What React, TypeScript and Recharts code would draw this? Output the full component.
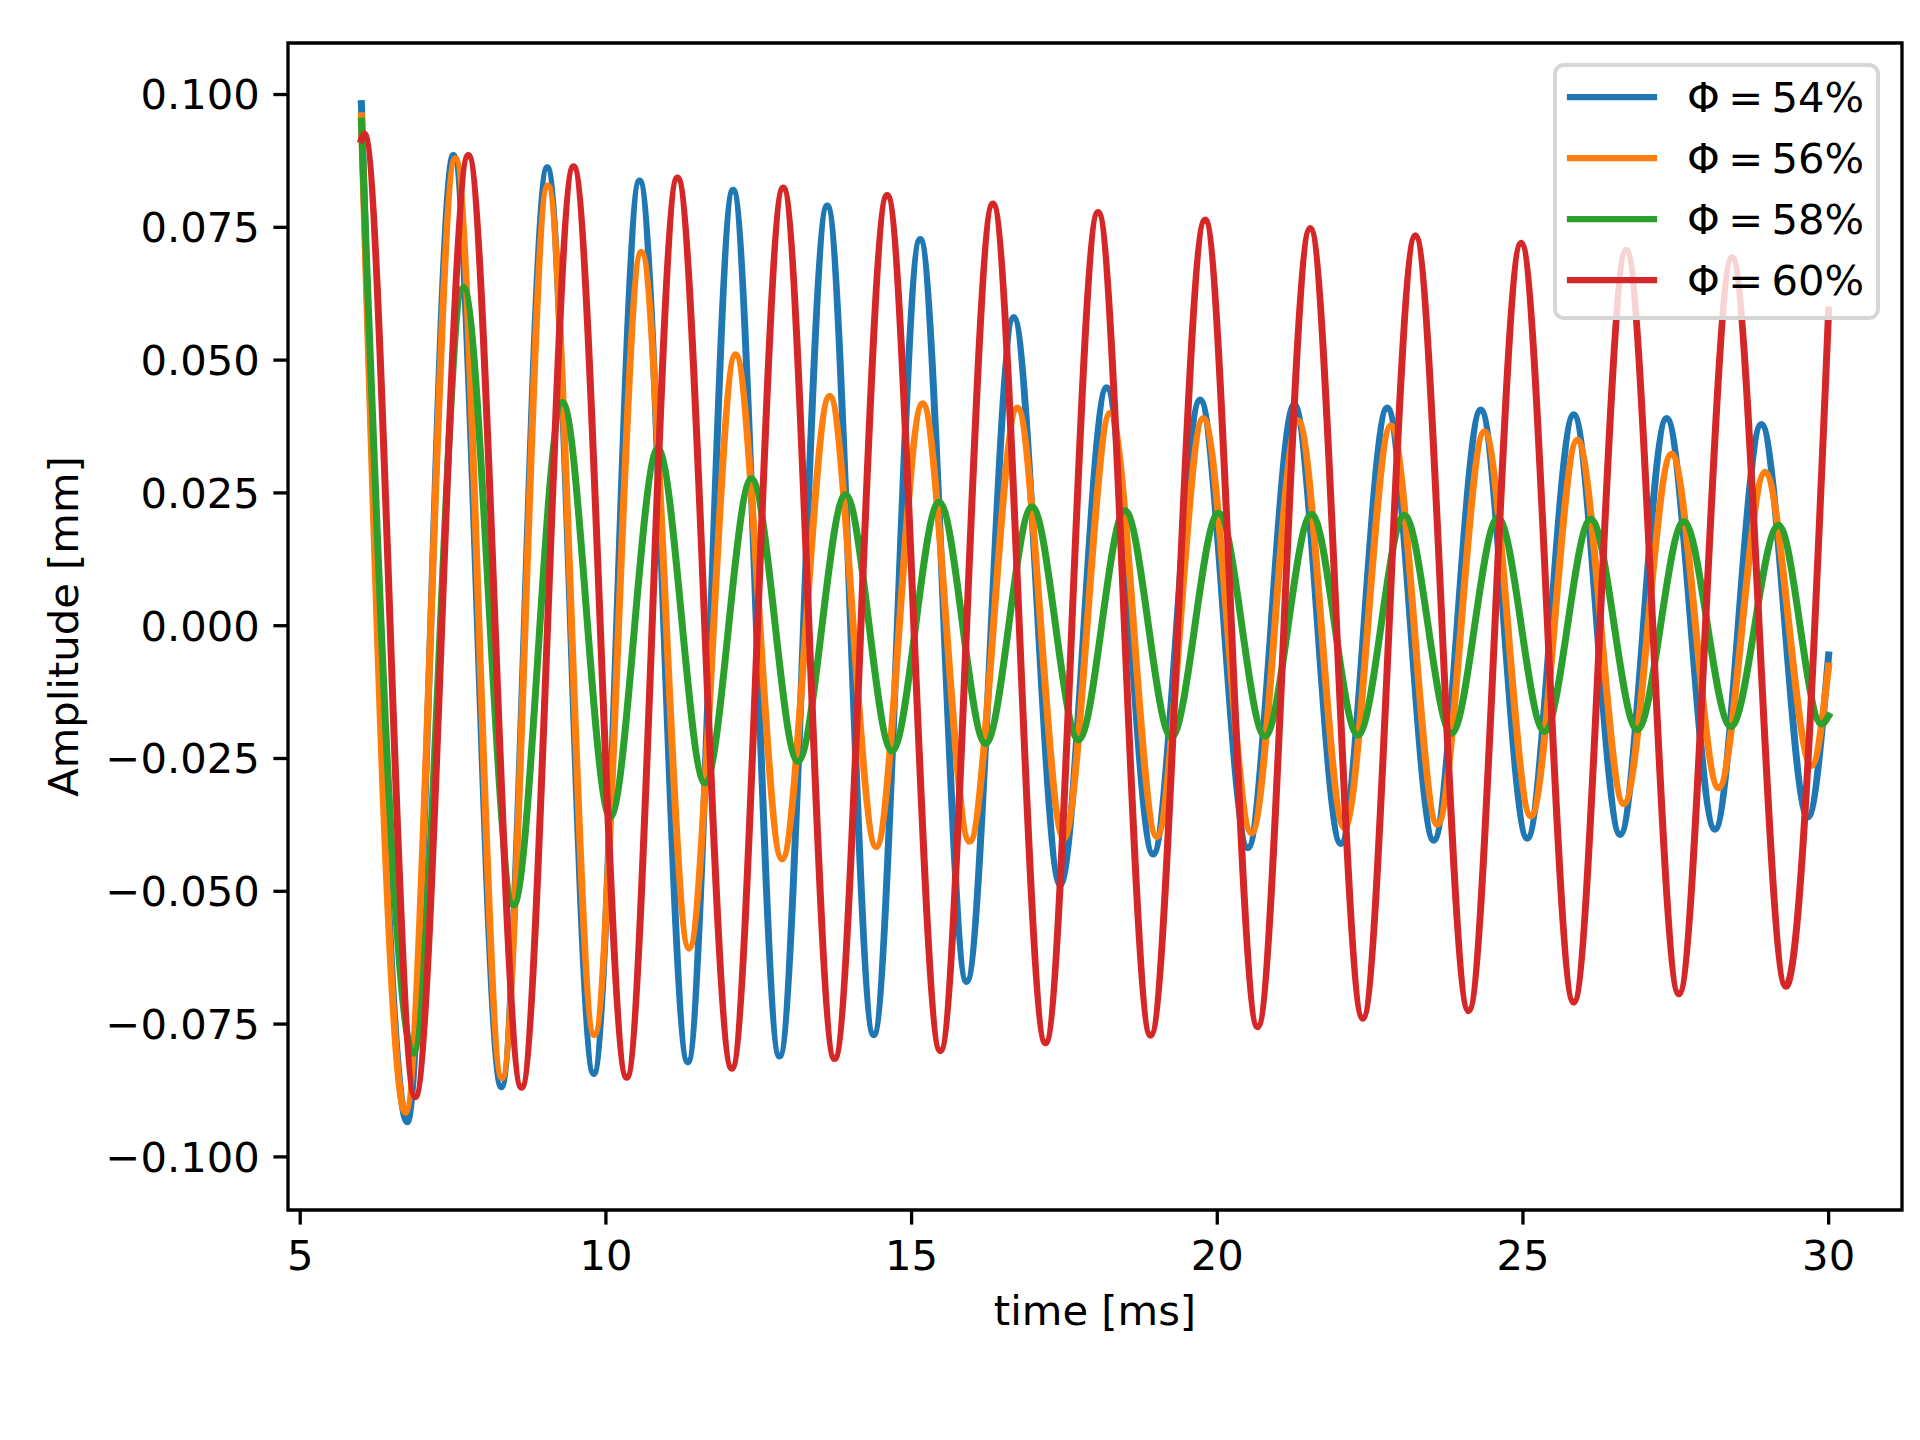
import { LineChart, Line, XAxis, YAxis, Legend, ReferenceArea } from 'recharts'

// Extrema (time in ms, amplitude in mm)
const T_54 = [6.0, 6.75, 7.505, 8.29, 9.04, 9.8, 10.55, 11.34, 12.08, 12.84, 13.62, 14.38, 15.14, 15.9, 16.67, 17.43, 18.19, 18.95, 19.72, 20.5, 21.26, 22.02, 22.78, 23.54, 24.31, 25.07, 25.83, 26.59, 27.35, 28.14, 28.9, 29.66, 30.0]
const A_54 = [0.0983, -0.0934, 0.0885, -0.0868, 0.0862, -0.0843, 0.0837, -0.0821, 0.082, -0.081, 0.079, -0.077, 0.0727, -0.067, 0.058, -0.0487, 0.0448, -0.043, 0.0425, -0.0418, 0.0416, -0.041, 0.041, -0.0404, 0.0406, -0.04, 0.0397, -0.0393, 0.039, -0.0383, 0.0379, -0.036, -0.0055]

const T_56 = [6.0, 6.72, 7.54, 8.3, 9.05, 9.81, 10.58, 11.36, 12.12, 12.88, 13.66, 14.42, 15.18, 15.95, 16.73, 17.49, 18.25, 19.01, 19.77, 20.56, 21.32, 22.08, 22.84, 23.6, 24.37, 25.13, 25.89, 26.65, 27.43, 28.2, 28.96, 29.72, 30.0]
const A_56 = [0.096, -0.0916, 0.0879, -0.0851, 0.0828, -0.077, 0.0703, -0.0607, 0.051, -0.0439, 0.0432, -0.0416, 0.0418, -0.0406, 0.041, -0.04, 0.04, -0.0397, 0.039, -0.039, 0.0386, -0.038, 0.0376, -0.0374, 0.0365, -0.0358, 0.0349, -0.0335, 0.0323, -0.0305, 0.0289, -0.0263, -0.0076]

const T_58 = [6.0, 6.85, 7.67, 8.49, 9.29, 10.07, 10.85, 11.62, 12.38, 13.14, 13.92, 14.68, 15.45, 16.21, 16.97, 17.73, 18.49, 19.25, 20.02, 20.78, 21.54, 22.3, 23.06, 23.83, 24.59, 25.35, 26.11, 26.87, 27.63, 28.4, 29.18, 29.88, 30.0]
const A_58 = [0.095, -0.0805, 0.0637, -0.0526, 0.042, -0.036, 0.0333, -0.0296, 0.0277, -0.0256, 0.0247, -0.0236, 0.0233, -0.0222, 0.0224, -0.0215, 0.0217, -0.021, 0.0212, -0.0208, 0.021, -0.0206, 0.0208, -0.0203, 0.0203, -0.0199, 0.0201, -0.0196, 0.0196, -0.019, 0.0189, -0.0185, -0.017]

const T_60 = [6.0, 6.05, 6.88, 7.75, 8.62, 9.47, 10.34, 11.17, 12.06, 12.9, 13.74, 14.6, 15.47, 16.33, 17.19, 18.05, 18.91, 19.8, 20.66, 21.52, 22.38, 23.24, 24.11, 24.97, 25.83, 26.69, 27.55, 28.42, 29.3, 30.0]
const A_60 = [0.0915, 0.0925, -0.0887, 0.0885, -0.0869, 0.0864, -0.085, 0.0843, -0.0833, 0.0824, -0.0815, 0.081, -0.08, 0.0794, -0.0785, 0.0778, -0.0771, 0.0764, -0.0755, 0.0748, -0.0739, 0.0734, -0.0725, 0.072, -0.0709, 0.0707, -0.0693, 0.0693, -0.0679, 0.0594]

const PHI_LABELS = ['54%', '56%', '58%', '60%']
const COLORS = ['#1f77b4', '#ff7f0e', '#2ca02c', '#d62728']

const X_TICKS = [5, 10, 15, 20, 25, 30]
const Y_TICKS = [-0.1, -0.075, -0.05, -0.025, 0, 0.025, 0.05, 0.075, 0.1]
const X_DOMAIN: [number, number] = [4.8, 31.2]
const Y_DOMAIN: [number, number] = [-0.11, 0.1097]

const FONT = '"DejaVu Sans", sans-serif'
const FS = 41.7

function zip(ts: number[], as: number[]) {
  return ts.map((t, i) => ({ t, a: as[i] }))
}

const SERIES = [
  { name: PHI_LABELS[0], data: zip(T_54, A_54), color: COLORS[0] },
  { name: PHI_LABELS[1], data: zip(T_56, A_56), color: COLORS[1] },
  { name: PHI_LABELS[2], data: zip(T_58, A_58), color: COLORS[2] },
  { name: PHI_LABELS[3], data: zip(T_60, A_60), color: COLORS[3] },
]

function fmtY(v: number) {
  const s = Math.abs(v).toFixed(3)
  return v < -1e-9 ? '\u2212' + s : s
}

function XLabel(props: any) {
  const { x, y, width, height } = props.viewBox
  return (
    <text x={x + width / 2} y={y + height - 5} textAnchor="middle" fontFamily={FONT} fontSize={FS} fill="#000">
      time [ms]
    </text>
  )
}

function YLabel(props: any) {
  const { x, y, height } = props.viewBox
  const cx = x - 10
  const cy = y + height / 2
  return (
    <text x={cx} y={cy} transform={`rotate(-90 ${cx} ${cy})`} textAnchor="middle" fontFamily={FONT} fontSize={FS} fill="#000">
      Amplitude [mm]
    </text>
  )
}

function PhiLegend() {
  return (
    <svg width={327} height={257} style={{ display: 'block' }}>
      <rect x={2} y={2} width={323} height={253} rx={9} fill="rgba(255,255,255,0.8)" stroke="#d6d6d6" strokeWidth={4} />
      {SERIES.map((s, i) => (
        <g key={s.name}>
          <line x1={17} x2={101} y1={34 + i * 61} y2={34 + i * 61} stroke={s.color} strokeWidth={6.25} strokeLinecap="square" />
          <text x={134} y={34 + i * 61} dy="0.355em" fontFamily={FONT} fontSize={FS} fill="#000">
            {'\u03A6\u2009=\u2009' + s.name}
          </text>
        </g>
      ))}
    </svg>
  )
}

export default function App() {
  const tickStyle = { fontFamily: FONT, fontSize: FS, fill: '#000' }
  return (
    <div style={{ width: 1920, height: 1440, background: '#fff' }}>
      <style>{'body{margin:0}'}</style>
      <LineChart width={1920} height={1440} margin={{ top: 43, right: 18, bottom: 110, left: 88 }}>
        <XAxis
          type="number"
          dataKey="t"
          domain={X_DOMAIN}
          ticks={X_TICKS}
          allowDataOverflow
          height={120}
          axisLine={false}
          tickSize={14.6}
          tickMargin={15.5}
          tickLine={{ stroke: '#000', strokeWidth: 3.3 }}
          tick={tickStyle}
          label={{ content: XLabel }}
        />
        <YAxis
          type="number"
          domain={Y_DOMAIN}
          ticks={Y_TICKS}
          allowDataOverflow
          width={200}
          axisLine={false}
          tickSize={14.6}
          tickMargin={13.5}
          tickLine={{ stroke: '#000', strokeWidth: 3.3 }}
          tick={tickStyle}
          tickFormatter={fmtY}
          label={{ content: YLabel }}
        />
        {SERIES.map((s) => (
          <Line
            key={s.name}
            data={s.data}
            dataKey="a"
            name={s.name}
            type="monotone"
            stroke={s.color}
            strokeWidth={7}
            strokeLinecap="square"
            strokeLinejoin="round"
            dot={false}
            activeDot={false}
            isAnimationActive={false}
          />
        ))}
        <ReferenceArea
          x1={X_DOMAIN[0]}
          x2={X_DOMAIN[1]}
          y1={Y_DOMAIN[0]}
          y2={Y_DOMAIN[1]}
          fill="none"
          stroke="#000"
          strokeWidth={3.3}
          ifOverflow="visible"
        />
        <Legend
          layout="horizontal"
          verticalAlign="middle"
          align="center"
          content={PhiLegend}
          wrapperStyle={{ left: 1553, top: 63, width: 327, height: 257 }}
        />
      </LineChart>
    </div>
  )
}
